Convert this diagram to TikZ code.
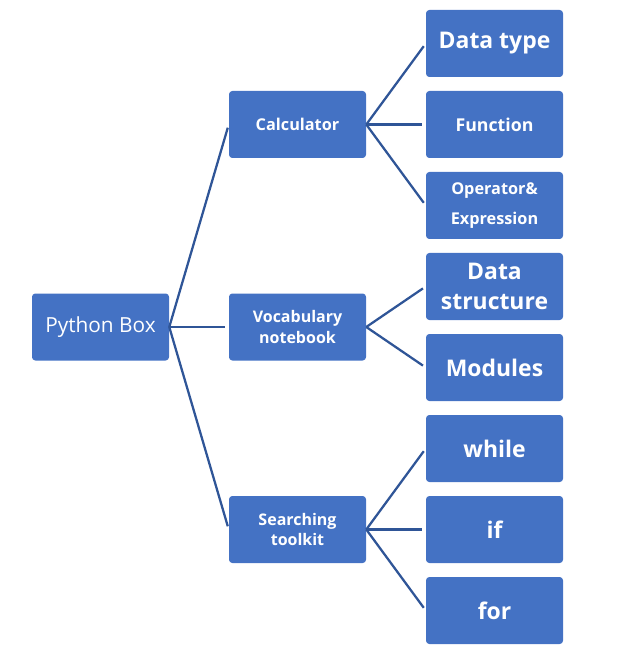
\documentclass[tikz,border=0pt]{standalone}
\usepackage{fontspec}
\setmainfont{Open Sans}
\definecolor{boxblue}{HTML}{4472C4}
\definecolor{linkblue}{HTML}{2F5597}
\begin{document}
\begin{tikzpicture}[x=0.75pt,y=-0.75pt,
  box/.style={fill=boxblue,draw=none,rounded corners=2.5pt,minimum width=102.75pt,minimum height=50.25pt,inner sep=0pt,text=white,align=center},
  rootbox/.style={box,font=\fontsize{15.6}{18}\selectfont},
  midbox/.style={box,font=\bfseries\fontsize{12.2}{16}\selectfont},
  twobox/.style={box,font=\bfseries\fontsize{12}{15.5}\selectfont},
  bigbox/.style={box,font=\bfseries\fontsize{17.2}{22.5}\selectfont},
  medbox/.style={box,font=\bfseries\fontsize{13.3}{16}\selectfont},
  smallbox/.style={box,font=\bfseries\fontsize{12.2}{22.5}\selectfont},
  link/.style={draw=linkblue,line width=1.7pt,shorten >=2.5pt}]
\useasboundingbox (0,0) rectangle (627,666);
\node[rootbox] (root) at (100.5,327) {Python Box};
\node[midbox] (calc) at (297.5,124.5) {Calculator};
\node[twobox] (vocab) at (297.5,327) {Vocabulary\\notebook};
\node[twobox] (search) at (297.5,529.5) {Searching\\toolkit};
\node[bigbox] (dtype) at (494.5,43.5) {Data type};
\node[medbox] (func) at (494.5,124.5) {Function};
\node[smallbox] (oper) at (494.5,205.5) {Operator\&\\Expression};
\node[bigbox] (dstruct) at (494.5,286.5) {Data\\structure};
\node[bigbox] (mods) at (494.5,367.5) {Modules};
\node[bigbox] (while) at (494.5,448.5) {while};
\node[bigbox] (if) at (494.5,529.5) {if};
\node[bigbox] (for) at (494.5,610.5) {for};
\foreach \m in {calc,vocab,search} \draw[link] (root.east) -- (\m.west);
\foreach \r in {dtype,func,oper} \draw[link] (calc.east) -- (\r.west);
\foreach \r in {dstruct,mods} \draw[link] (vocab.east) -- (\r.west);
\foreach \r in {while,if,for} \draw[link] (search.east) -- (\r.west);
\end{tikzpicture}
\end{document}
